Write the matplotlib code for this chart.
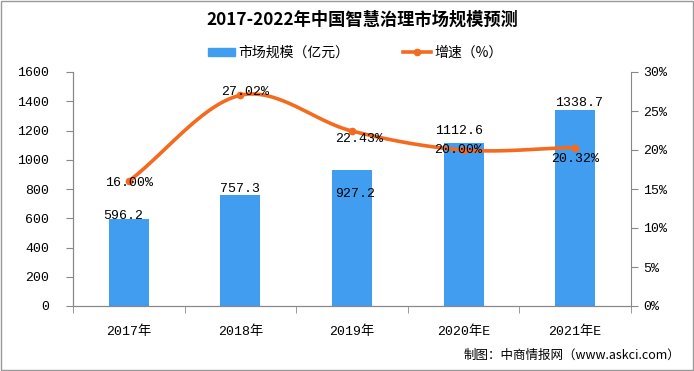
import numpy as np
import matplotlib
matplotlib.use("Agg")
import matplotlib.pyplot as plt
from matplotlib.patches import Rectangle
from matplotlib.lines import Line2D

plt.rcParams['font.family'] = ['Noto Sans CJK SC', 'DejaVu Sans']

# data
years = ["2017年", "2018年", "2019年", "2020年E", "2021年E"]
market = [596.2, 757.3, 927.2, 1112.6, 1338.7]
growth = [16.00, 27.02, 22.43, 20.00, 20.32]

BAR_COLOR = "#419DF0"
LINE_COLOR = "#F46A1F"
MONO = ['Liberation Mono', 'Noto Sans CJK SC']


# smooth curve through the points (Catmull-Rom), like Excel's smoothed line
def smooth(x, y, n=30):
    x = np.asarray(x, float)
    y = np.asarray(y, float)
    px = np.concatenate([[2 * x[0] - x[1]], x, [2 * x[-1] - x[-2]]])
    py = np.concatenate([[2 * y[0] - y[1]], y, [2 * y[-1] - y[-2]]])
    xs, ys = [], []
    t = np.linspace(0, 1, n)
    for i in range(1, len(px) - 2):
        p0, p1, p2, p3 = py[i - 1], py[i], py[i + 1], py[i + 2]
        q0, q1, q2, q3 = px[i - 1], px[i], px[i + 1], px[i + 2]
        ys.append(0.5 * (2 * p1 + (-p0 + p2) * t + (2 * p0 - 5 * p1 + 4 * p2 - p3) * t ** 2
                         + (-p0 + 3 * p1 - 3 * p2 + p3) * t ** 3))
        xs.append(0.5 * (2 * q1 + (-q0 + q2) * t + (2 * q0 - 5 * q1 + 4 * q2 - q3) * t ** 2
                         + (-q0 + 3 * q1 - 3 * q2 + q3) * t ** 3))
    return np.concatenate(xs), np.concatenate(ys)


fig = plt.figure(figsize=(6.94, 3.71), dpi=100)
ax = fig.add_axes([73 / 694, 1 - 306 / 371, (631 - 73) / 694, (306 - 72) / 371])
ax2 = ax.twinx()

x = np.arange(len(years))
ax.bar(x, market, width=0.36, color=BAR_COLOR, zorder=2)
ax.set_xlim(-0.5, len(years) - 0.5)
ax.set_ylim(0, 1600)
ax.set_yticks(np.arange(0, 1601, 200))
ax.set_yticklabels([str(v) for v in range(0, 1601, 200)], family=MONO)
ax.set_xticks(x)
ax.set_xticklabels(years, fontsize=9.5, family=MONO)
ax.set_xticks(np.arange(-0.5, len(years), 1), minor=True)
ax.tick_params(axis='x', which='major', length=0, pad=14)
ax.tick_params(axis='x', which='minor', length=5, color='#888888', direction='out')
ax.tick_params(axis='y', length=5, color='#888888', labelsize=9.5, pad=12)

sx, sy = smooth(x, growth)
ax2.plot(sx, sy, color=LINE_COLOR, lw=2.6, zorder=3)
ax2.plot(x, growth, 'o', color=LINE_COLOR, ms=4.5, zorder=4)
ax2.set_ylim(0, 30)
ax2.set_yticks(np.arange(0, 31, 5))
ax2.set_yticklabels([f"{v}%" for v in range(0, 31, 5)], family=MONO)
ax2.tick_params(axis='y', length=5, color='#888888', labelsize=9.5, pad=4)

for a in (ax, ax2):
    a.spines['top'].set_visible(False)
    for s in ('left', 'right', 'bottom'):
        a.spines[s].set_color('#888888')
ax.spines['right'].set_visible(False)

# bar value labels (offsets: category units, value units)
m_offsets = [(-0.05, 20), (0.0, 41), (0.03, -164), (-0.04, 82), (0.03, 48)]
for i, v in enumerate(market):
    dx, dy = m_offsets[i]
    ax.text(i + dx, v + dy, f"{v}", ha='center', va='center', fontsize=9.5,
            family=MONO, zorder=5)

# growth labels (offsets in % units)
g_offsets = [(0.0, -0.26), (0.04, 0.38), (0.06, -1.03), (-0.045, 0.0), (0.0, -1.41)]
for i, v in enumerate(growth):
    dx, dy = g_offsets[i]
    ax2.text(i + dx, v + dy, f"{v:.2f}%", ha='center', va='center', fontsize=9.5,
             family=MONO, zorder=5)

fig.text(362 / 694, 1 - 20 / 371, "2017-2022年中国智慧治理市场规模预测", ha='center', va='center',
         fontsize=12.4, fontweight='bold')

# legend
handles = [Rectangle((0, 0), 1, 1, color=BAR_COLOR),
           Line2D([0], [0], color=LINE_COLOR, lw=2.6, marker='o', ms=4.5)]
fig.legend(handles, ["市场规模（亿元）", "增速（%）"], loc='center', ncol=2,
           bbox_to_anchor=(355 / 694, 1 - 53 / 371), frameon=False, fontsize=10,
           columnspacing=3.9, handlelength=1.95, handleheight=0.55, handletextpad=0.25)

fig.text(1 - 14 / 694, 1 - 355 / 371, "制图：中商情报网（www.askci.com）", ha='right',
         va='center', fontsize=9)

# outer frame
fig.patches.append(Rectangle((0.001, 0.002), 0.997, 0.995, transform=fig.transFigure,
                             fill=False, ec='#999999', lw=1))

fig.savefig("out.png", dpi=100)
